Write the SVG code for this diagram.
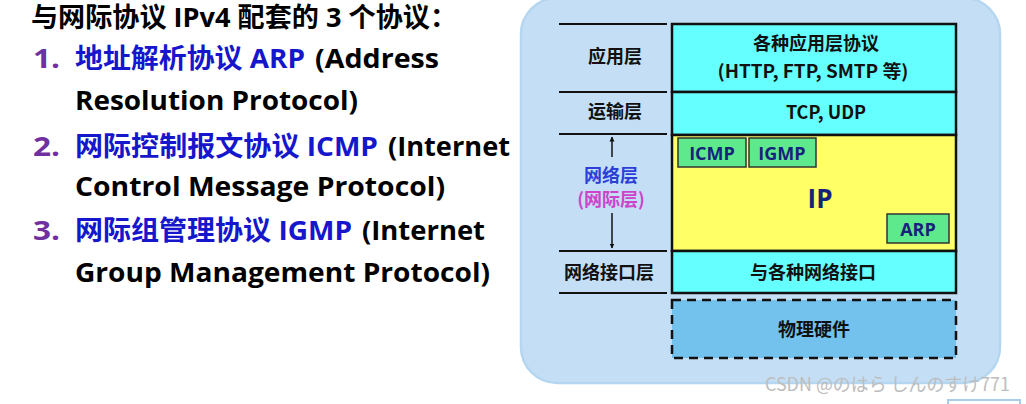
<svg xmlns="http://www.w3.org/2000/svg" width="1026" height="404" viewBox="0 0 1026 404">
<style>
.t{font-family:"Open Sans","Noto Sans CJK SC",sans-serif;font-weight:bold;font-size:27px;fill:#000}
.num{fill:#7030a0}
.blue{fill:#1616cc}
.c{font-family:"Noto Sans CJK SC","Open Sans",sans-serif;font-weight:bold;font-size:18px;fill:#111;text-anchor:middle}
.proto{font-family:"Open Sans","Noto Sans CJK SC",sans-serif;font-weight:bold;font-size:18px;fill:#17237a;text-anchor:middle}
.layer{stroke:#111;stroke-width:2.5}
.sep{stroke:#111;stroke-width:2.2}
.gbox{fill:#5eea8c;stroke:#333;stroke-width:1.5}
</style>
<defs>
<marker id="ah" viewBox="0 0 10 10" refX="9" refY="5" markerWidth="5" markerHeight="6" orient="auto-start-reverse" markerUnits="userSpaceOnUse">
<path d="M0,0 L10,5 L0,10 z" fill="#111"/>
</marker>
</defs>
<rect width="1026" height="404" fill="#fff"/>
<g id="list">
<text class="t" x="31" y="27" textLength="426" lengthAdjust="spacingAndGlyphs">与网际协议 IPv4 配套的 3 个协议：</text>
<text class="t num" x="33" y="68" textLength="27" lengthAdjust="spacingAndGlyphs">1.</text>
<text class="t blue" x="75" y="68" textLength="230" lengthAdjust="spacingAndGlyphs">地址解析协议 ARP</text>
<text class="t" x="315" y="68" textLength="124" lengthAdjust="spacingAndGlyphs">(Address</text>
<text class="t" x="75" y="110" textLength="283" lengthAdjust="spacingAndGlyphs">Resolution Protocol)</text>
<text class="t num" x="33" y="156" textLength="27" lengthAdjust="spacingAndGlyphs">2.</text>
<text class="t blue" x="75" y="156" textLength="303" lengthAdjust="spacingAndGlyphs">网际控制报文协议 ICMP</text>
<text class="t" x="388" y="156" textLength="122" lengthAdjust="spacingAndGlyphs">(Internet</text>
<text class="t" x="75" y="196" textLength="370" lengthAdjust="spacingAndGlyphs">Control Message Protocol)</text>
<text class="t num" x="33" y="240" textLength="27" lengthAdjust="spacingAndGlyphs">3.</text>
<text class="t blue" x="75" y="240" textLength="277" lengthAdjust="spacingAndGlyphs">网际组管理协议 IGMP</text>
<text class="t" x="362" y="240" textLength="123" lengthAdjust="spacingAndGlyphs">(Internet</text>
<text class="t" x="75" y="282" textLength="415" lengthAdjust="spacingAndGlyphs">Group Management Protocol)</text>
</g>
<g id="panel">
<rect x="521" y="-2" width="479" height="385" rx="36" fill="#c4dff5" stroke="#b4d6f0" stroke-width="2.5"/>
</g>
<g id="separators">
<line class="sep" x1="559" y1="24" x2="667" y2="24"/>
<line class="sep" x1="559" y1="92" x2="667" y2="92"/>
<line class="sep" x1="559" y1="134" x2="667" y2="134"/>
<line class="sep" x1="559" y1="251" x2="667" y2="251"/>
<line class="sep" x1="559" y1="293" x2="667" y2="293"/>
</g>
<g id="layer-labels">
<text class="c" x="615" y="63">应用层</text>
<text class="c" x="615" y="118">运输层</text>
<text class="c" x="611" y="182" style="fill:#2b3fd8">网络层</text>
<text class="c" x="611" y="206" style="fill:#cc44cc">(网际层)</text>
<text class="c" x="609" y="279">网络接口层</text>
</g>
<g id="connectors">
<line x1="612" y1="157" x2="612" y2="137" stroke="#111" stroke-width="1.5" marker-end="url(#ah)"/>
<line x1="612" y1="213" x2="612" y2="248" stroke="#111" stroke-width="1.5" marker-end="url(#ah)"/>
</g>
<g id="app">
<rect class="layer" x="672" y="24" width="284" height="68" fill="#66ffff"/>
<text class="c" x="816" y="50">各种应用层协议</text>
<text class="c" x="813" y="78" textLength="191" lengthAdjust="spacingAndGlyphs">(HTTP, FTP, SMTP 等)</text>
</g>
<g id="transport">
<rect class="layer" x="672" y="92" width="284" height="43" fill="#66ffff"/>
<text class="c" x="826" y="119">TCP, UDP</text>
</g>
<g id="network">
<rect class="layer" x="672" y="135" width="284" height="116" fill="#ffff66"/>
<text class="proto" x="820" y="208" style="font-size:26px">IP</text>
</g>
<g id="icmp">
<rect class="gbox" x="678" y="138" width="68" height="29"/>
<text class="proto" x="712" y="160">ICMP</text>
</g>
<g id="igmp">
<rect class="gbox" x="749" y="138" width="67" height="29"/>
<text class="proto" x="782" y="160">IGMP</text>
</g>
<g id="arp">
<rect class="gbox" x="887" y="214" width="62" height="29"/>
<text class="proto" x="918" y="236">ARP</text>
</g>
<g id="interface">
<rect class="layer" x="672" y="251" width="284" height="42" fill="#66ffff"/>
<text class="c" x="813" y="279">与各种网络接口</text>
</g>
<g id="physical">
<rect x="672" y="300" width="284" height="58" fill="#73c2ee" stroke="#111" stroke-width="2.5" stroke-dasharray="9,6"/>
<text class="c" x="814" y="336">物理硬件</text>
</g>
<g id="watermark">
<text x="765" y="391" textLength="245" lengthAdjust="spacingAndGlyphs" style="font-family:'Noto Sans CJK JP',sans-serif;font-size:18px;fill:#bdbdbd">CSDN @のはら しんのすけ771</text>
<rect x="948" y="400" width="72" height="10" fill="#fff" stroke="#a8cdea" stroke-width="2"/>
</g>
</svg>
